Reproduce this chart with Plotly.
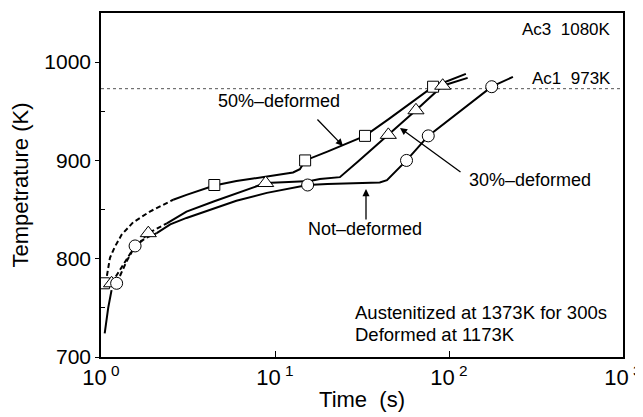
import plotly.graph_objects as go

# ---- data ----
AC1 = 973

# 50%-deformed (squares)
d50_dash_t = [1.04, 1.08, 1.126, 1.2, 1.315, 1.53, 1.91, 2.39, 2.6]
d50_dash_T = [775, 782, 801, 812, 824.5, 837, 848, 857, 860]
d50_line_t = [2.6, 3.1, 4.48, 6, 7.5, 10, 12.7, 13.9, 14.9, 20, 25, 32.9, 45, 60, 81, 125]
d50_line_T = [860, 865, 874.5, 879, 881.6, 885, 887.7, 891, 900, 909, 916, 925, 942, 958, 975, 988]
d50_mk_t = [1.04, 4.48, 14.9, 32.9, 81]
d50_mk_T = [775, 875, 900, 925, 975]

# 30%-deformed (triangles)
d30_dash_t = [1.15, 1.286, 1.5, 1.87, 2.39]
d30_dash_T = [775, 789, 807.5, 826, 836]
d30_line_t = [2.39, 3.1, 4.48, 6.5, 8.84, 12, 15.9, 18.1, 23.6, 30, 44.8, 64.6, 92, 128]
d30_line_T = [836, 848, 858.5, 869, 877, 878, 879, 881, 883, 899, 926, 951, 976, 984]
d30_mk_t = [1.15, 1.87, 8.84, 44.8, 64.6, 92]
d30_mk_T = [775, 826, 877, 926, 951, 976]

# Not-deformed (circles)
nd_start_t = [1.05, 1.1, 1.15]
nd_start_T = [724, 750, 768]
nd_dash_t = [1.23, 1.4, 1.57, 1.8, 2.09]
nd_dash_T = [775, 797, 813, 821, 826]
nd_line_t = [2.09, 2.5, 3.1, 4.48, 6, 8.98, 12, 15.4, 20, 30, 40, 44, 50, 57, 76, 120, 176, 233]
nd_line_T = [826, 835, 841.5, 851.7, 859, 867, 871.5, 875, 876, 877, 877.5, 880, 890, 900, 925, 952, 975, 985]
nd_mk_t = [1.23, 1.57, 15.4, 57, 76, 176]
nd_mk_T = [775, 813, 875, 900, 925, 975]

x_tickvals = [1, 10, 100, 1000]
x_ticktext = ["10<sup> 0</sup>", "10<sup> 1</sup>", "10<sup> 2</sup>", "10<sup> 3</sup>"]
y_tickvals = [700, 800, 900, 1000]

FONT = "Liberation Sans, Arial, Helvetica, sans-serif"
fig = go.Figure()

def line(t, T, dash=None):
    fig.add_trace(go.Scatter(x=t, y=T, mode="lines",
                             line=dict(color="black", width=2, dash=dash),
                             showlegend=False, hoverinfo="skip"))

DASH = "5px,3px"
line(nd_start_t, nd_start_T)
for dt, dT, lt, lT in [(d50_dash_t, d50_dash_T, d50_line_t, d50_line_T),
                       (d30_dash_t, d30_dash_T, d30_line_t, d30_line_T),
                       (nd_dash_t, nd_dash_T, nd_line_t, nd_line_T)]:
    line(dt, dT, DASH)
    line(lt, lT)

def markers(t, T, symbol, size):
    fig.add_trace(go.Scatter(x=t, y=T, mode="markers",
                             marker=dict(symbol=symbol, size=size, color="white",
                                         line=dict(color="black", width=1)),
                             showlegend=False))

markers(d50_mk_t, d50_mk_T, "square", 11)
markers(d30_mk_t, d30_mk_T, "triangle-up", 14)
markers(nd_mk_t, nd_mk_T, "circle", 12)

# Ac1 dotted line
fig.add_shape(type="line", xref="paper", x0=0, x1=1, yref="y", y0=AC1, y1=AC1,
              line=dict(color="#555555", width=1, dash="dot"), layer="below")

def text(s, x, y, xanchor="center", size=17):
    fig.add_annotation(text=s, x=x, y=y, xref="paper", yref="paper", showarrow=False,
                       xanchor=xanchor, yanchor="middle",
                       font=dict(family=FONT, size=size, color="black"))

text("Ac3&nbsp;&nbsp;1080K", 0.981, 0.951, "right", 17)
text("Ac1&nbsp;&nbsp;973K", 0.981, 0.81, "right", 17)
text("50%\u2013deformed", 0.341, 0.744, "center", 18)
text("30%\u2013deformed", 0.822, 0.515, "center", 18)
text("Not\u2013deformed", 0.506, 0.372, "center", 18)
text("Austenitized at 1373K for 300s", 0.483, 0.128, "left", 18.5)
text("Deformed at 1173K", 0.483, 0.064, "left", 18.5)

PW, PH = 522, 344  # plot area size in pixels

def arrow(hx, hy, tx, ty):
    # positions relative to the plot area's top-left corner (101, 13 in the window)
    fig.add_annotation(x=(hx - 101) / PW, y=(357 - hy) / PH, xref="paper", yref="paper",
                       ax=tx - hx, ay=ty - hy, axref="pixel", ayref="pixel",
                       text="", showarrow=True, arrowhead=2, arrowsize=1.1,
                       arrowwidth=1.3, arrowcolor="black")

arrow(343, 146, 316, 118)
arrow(400, 128, 462, 173)
arrow(366, 189, 366, 221)

# the page body adds an 8px offset, so margins compensate for it
fig.update_layout(
    width=643, height=417,
    margin=dict(l=93, r=28, t=5, b=68),
    plot_bgcolor="white", paper_bgcolor="white",
    font=dict(family=FONT, color="black", size=18),
    xaxis=dict(type="log", range=[0, 3], showline=True, linecolor="black", linewidth=1.5,
               mirror=True, showgrid=False, zeroline=False, automargin=False,
               ticks="inside", ticklen=6, tickcolor="black",
               tickvals=x_tickvals, ticktext=x_ticktext,
               tickfont=dict(size=22, family=FONT),
               title=dict(text="Time&nbsp;&nbsp;(s)", font=dict(size=22, family=FONT), standoff=2)),
    yaxis=dict(range=[700, 1050], showline=True, linecolor="black", linewidth=1.5,
               mirror=True, showgrid=False, zeroline=False, automargin=False,
               ticks="outside", ticklen=4, tickcolor="black",
               tickvals=y_tickvals, tickfont=dict(size=21, family=FONT),
               minor=dict(tickvals=[750, 850, 950], ticks="inside", ticklen=4, tickcolor="black"),
               title=dict(text="Tempetrature (K)", font=dict(size=22, family=FONT), standoff=12)),
)

fig.write_html("out.html")
